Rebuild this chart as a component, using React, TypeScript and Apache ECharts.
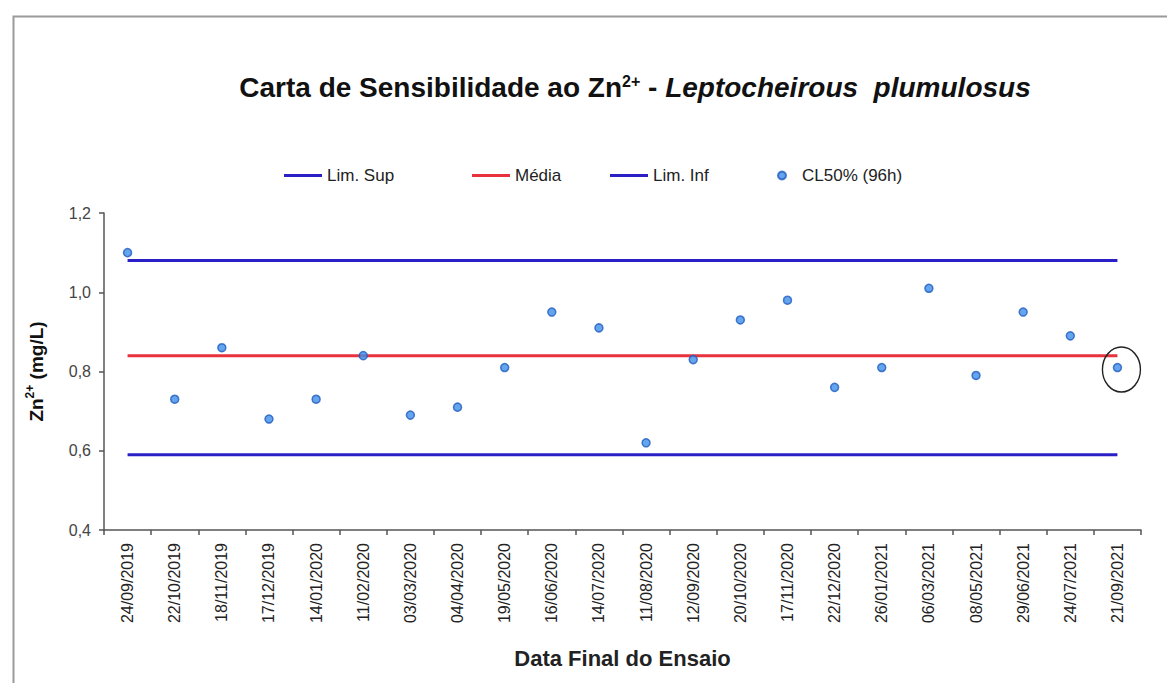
import React, { useEffect, useRef } from "react";
import * as echarts from "echarts";

const categories = [
  "24/09/2019", "22/10/2019", "18/11/2019", "17/12/2019", "14/01/2020", "11/02/2020",
  "03/03/2020", "04/04/2020", "19/05/2020", "16/06/2020", "14/07/2020", "11/08/2020",
  "12/09/2020", "20/10/2020", "17/11/2020", "22/12/2020", "26/01/2021", "06/03/2021",
  "08/05/2021", "29/06/2021", "24/07/2021", "21/09/2021",
];
const cl50 = [
  1.10, 0.73, 0.86, 0.68, 0.73, 0.84, 0.69, 0.71, 0.81, 0.95, 0.91, 0.62,
  0.83, 0.93, 0.98, 0.76, 0.81, 1.01, 0.79, 0.95, 0.89, 0.81,
];
const limSupValue = 1.08;
const mediaValue = 0.84;
const limInfValue = 0.59;
const limSup = categories.map(() => limSupValue);
const media = categories.map(() => mediaValue);
const limInf = categories.map(() => limInfValue);
const yTicks = { min: 0.4, max: 1.2, interval: 0.2 };

const FONT = "Arial, 'Liberation Sans', sans-serif";
const BLUE = "#2a20c6";
const RED = "#e8323c";

export default function App() {
  const ref = useRef<HTMLDivElement>(null);
  useEffect(() => {
    if (!ref.current) return;
    const chart = echarts.init(ref.current, null, { renderer: "svg" });
    const legendText = { fontFamily: FONT, fontSize: 17, color: "#222" };
    chart.setOption({
      animation: false,
      backgroundColor: "#fff",
      graphic: [
        {
          type: "rect",
          left: 11,
          top: 14,
          shape: { width: 1200, height: 720 },
          style: { fill: "none", stroke: "#9a9a9a", lineWidth: 2 },
          silent: true,
        },
      ],
      title: {
        text: "{a|Carta de Sensibilidade ao Zn}{s|2+}{a| - }{i|Leptocheirous  plumulosus}",
        left: 630,
        textAlign: "center",
        top: 64,
        textStyle: {
          rich: {
            a: { fontFamily: FONT, fontSize: 28, fontWeight: "bold", color: "#111", lineHeight: 32, verticalAlign: "bottom" },
            s: { fontFamily: FONT, fontSize: 16, fontWeight: "bold", color: "#111", lineHeight: 20, verticalAlign: "top", padding: [4, 0, 0, 0] },
            i: { fontFamily: FONT, fontSize: 28, fontWeight: "bold", fontStyle: "italic", color: "#111", lineHeight: 32, verticalAlign: "bottom" },
          },
        },
      },
      legend: [
        { data: [{ name: "Lim. Sup", icon: "rect" }], left: 279, top: 162, itemWidth: 38, itemHeight: 3, textStyle: legendText },
        { data: [{ name: "Média", icon: "rect" }], left: 467, top: 162, itemWidth: 38, itemHeight: 3, textStyle: legendText },
        { data: [{ name: "Lim. Inf", icon: "rect" }], left: 605, top: 162, itemWidth: 38, itemHeight: 3, textStyle: legendText },
        { data: [{ name: "CL50% (96h)", icon: "circle" }], left: 772, top: 162, itemWidth: 30, itemHeight: 8, textStyle: legendText },
      ],
      grid: { left: 104, right: 26, top: 213, bottom: 153, containLabel: false },
      xAxis: {
        type: "category",
        data: categories,
        boundaryGap: true,
        name: "Data Final do Ensaio",
        nameLocation: "middle",
        nameGap: 117,
        nameTextStyle: { fontFamily: FONT, fontSize: 22, fontWeight: "bold", color: "#222" },
        axisLine: { lineStyle: { color: "#555", width: 1.5 } },
        axisTick: { show: true, length: 5, lineStyle: { color: "#555", width: 1.5 } },
        axisLabel: { rotate: 90, interval: 0, margin: 13, fontFamily: FONT, fontSize: 16, color: "#222" },
        splitLine: { show: false },
      },
      yAxis: {
        type: "value",
        min: yTicks.min,
        max: yTicks.max,
        interval: yTicks.interval,
        name: "{a|Zn}{s|2+}{a| (mg/L)}",
        nameLocation: "middle",
        nameRotate: 90,
        nameGap: 58,
        nameTextStyle: {
          rich: {
            a: { fontFamily: FONT, fontSize: 19, fontWeight: "bold", color: "#111", lineHeight: 22, verticalAlign: "bottom" },
            s: { fontFamily: FONT, fontSize: 12, fontWeight: "bold", color: "#111", lineHeight: 14, verticalAlign: "top" },
          },
        },
        axisLine: { show: true, lineStyle: { color: "#555", width: 1.5 } },
        axisTick: { show: true, length: 5, lineStyle: { color: "#555", width: 1.5 } },
        axisLabel: {
          margin: 13,
          fontFamily: FONT,
          fontSize: 16,
          color: "#444",
          formatter: (v: number) => v.toFixed(1).replace(".", ","),
        },
        splitLine: { show: false },
      },
      series: [
        {
          name: "Lim. Sup",
          type: "line",
          data: limSup,
          symbol: "none",
          color: BLUE,
          lineStyle: { color: BLUE, width: 3 },
          z: 2,
        },
        {
          name: "Média",
          type: "line",
          data: media,
          symbol: "none",
          color: RED,
          lineStyle: { color: RED, width: 3 },
          z: 2,
        },
        {
          name: "Lim. Inf",
          type: "line",
          data: limInf,
          symbol: "none",
          color: BLUE,
          lineStyle: { color: BLUE, width: 3 },
          z: 2,
        },
        {
          name: "CL50% (96h)",
          type: "scatter",
          data: cl50,
          symbol: "circle",
          symbolSize: 8,
          itemStyle: { color: "#3f8fe8", borderColor: "#1f5cbf", borderWidth: 1.5 },
          z: 5,
          markPoint: {
            silent: true,
            symbol: "path://M0,-1A1,1,0,1,1,0,1A1,1,0,1,1,0,-1Z",
            symbolSize: [38, 45],
            symbolOffset: [4, 2],
            label: { show: false },
            itemStyle: { color: "none", borderColor: "#222", borderWidth: 1.5 },
            data: [{ coord: [categories[categories.length - 1], cl50[cl50.length - 1]] }],
          },
        },
      ],
    });
    return () => chart.dispose();
  }, []);
  return (
    <div
      ref={ref}
      style={{ position: "fixed", left: 0, top: 0, width: 1167, height: 683 }}
    />
  );
}
